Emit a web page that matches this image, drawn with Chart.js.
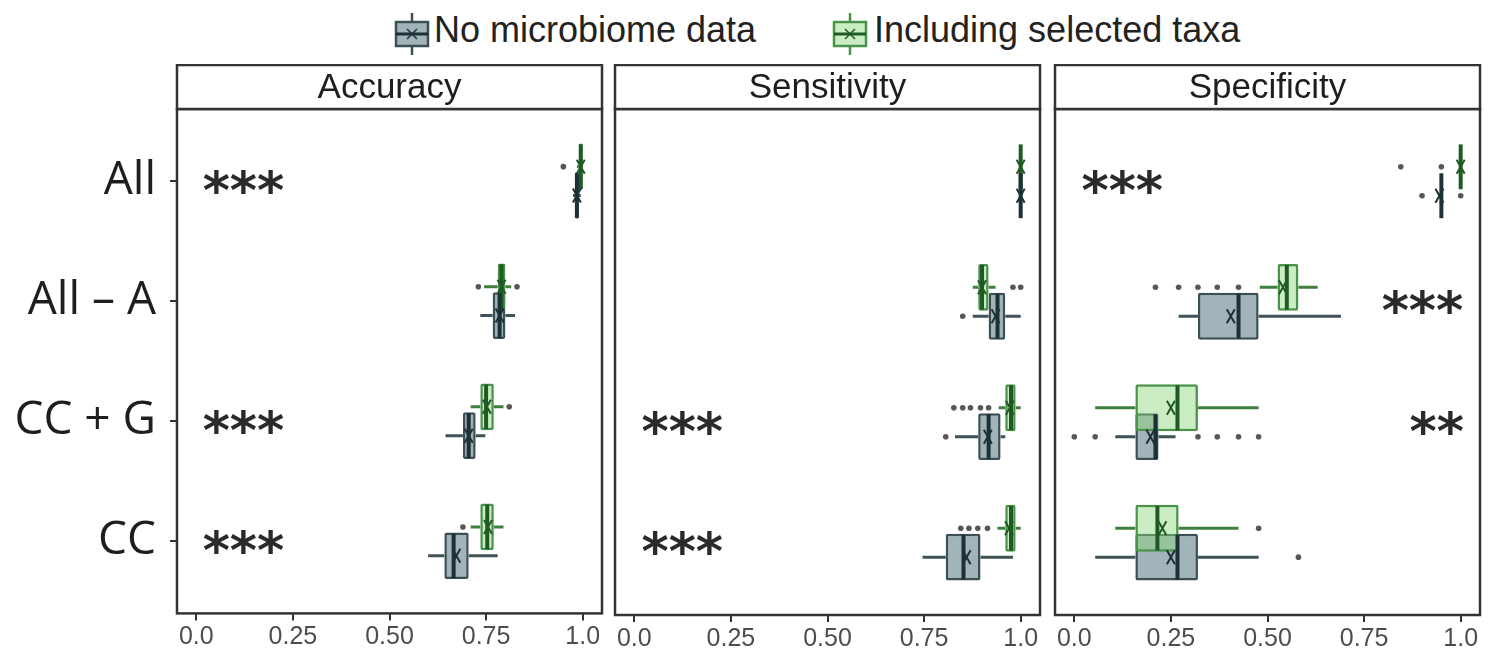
<!DOCTYPE html>
<html>
<head>
<meta charset="utf-8">
<script src="https://cdn.jsdelivr.net/npm/chart.js@4.4.1/dist/chart.umd.min.js"></script>
<style>
  html, body { margin: 0; padding: 0; background: #fff; }
  body { width: 1488px; height: 655px; position: relative; overflow: hidden; font-family: "Liberation Sans", Arial, sans-serif; }
  canvas.facet { position: absolute; top: 64px; }
  .key { position: absolute; top: 12px; }
  .legend-text { position: absolute; top: 12px; font-size: 36px; line-height: 36px; color: #222; white-space: nowrap; }
</style>
</head>
<body>
<canvas class="key" id="keyBase" width="38" height="44" style="left:393px"></canvas>
<span class="legend-text" style="left:434px">No microbiome data</span>
<canvas class="key" id="keyTaxa" width="38" height="44" style="left:831px"></canvas>
<span class="legend-text" style="left:874px">Including selected taxa</span>

<canvas class="facet" id="acc" width="604" height="591" style="left:0px"></canvas>
<canvas class="facet" id="sens" width="438" height="591" style="left:605px"></canvas>
<canvas class="facet" id="spec" width="443" height="591" style="left:1045px"></canvas>

<script>
const categories = ['All', 'All – A', 'CC + G', 'CC'];
const tickValues = [0, 0.25, 0.5, 0.75, 1];
const tickLabels = ['0.0', '0.25', '0.50', '0.75', '1.0'];

// each box: [lower whisker, q1, median, q3, upper whisker]
const accTaxaBox = [[0.985, 0.99, 0.995, 1.0, 1.0], [0.745, 0.78, 0.79, 0.80, 0.815], [0.71, 0.735, 0.75, 0.77, 0.795], [0.71, 0.735, 0.753, 0.77, 0.795]];
const accTaxaMean = [0.995, 0.79, 0.752, 0.755];
const accTaxaOut = [[0.95], [0.73, 0.83], [0.81], [0.69]];
const accBaseBox = [[0.975, 0.98, 0.985, 0.99, 0.995], [0.735, 0.767, 0.785, 0.80, 0.825], [0.645, 0.69, 0.705, 0.723, 0.748], [0.60, 0.642, 0.666, 0.705, 0.78]];
const accBaseMean = [0.985, 0.785, 0.705, 0.673];
const accBaseOut = [[], [], [], []];

const sensTaxaBox = [[1.0, 1.0, 1.0, 1.0, 1.0], [0.876, 0.89, 0.90, 0.917, 0.935], [0.943, 0.96, 0.975, 0.987, 1.0], [0.94, 0.96, 0.975, 0.987, 1.0]];
const sensTaxaMean = [1.0, 0.90, 0.972, 0.97];
const sensTaxaOut = [[], [0.98, 1.0], [0.827, 0.85, 0.87, 0.896, 0.917], [0.845, 0.866, 0.889, 0.914]];
const sensBaseBox = [[1.0, 1.0, 1.0, 1.0, 1.0], [0.876, 0.917, 0.94, 0.96, 1.0], [0.83, 0.89, 0.917, 0.948, 0.96], [0.746, 0.806, 0.852, 0.896, 0.98]];
const sensBaseMean = [1.0, 0.935, 0.915, 0.86];
const sensBaseOut = [[], [0.85], [0.806], []];

const specTaxaBox = [[1.0, 1.0, 1.0, 1.0, 1.0], [0.48, 0.526, 0.55, 0.58, 0.63], [0.054, 0.158, 0.267, 0.32, 0.477], [0.106, 0.158, 0.215, 0.27, 0.425]];
const specTaxaMean = [1.0, 0.54, 0.25, 0.228];
const specTaxaOut = [[0.845, 0.95], [0.21, 0.27, 0.32, 0.37, 0.425], [], [0.477]];
const specBaseBox = [[0.95, 0.95, 0.95, 0.95, 0.95], [0.27, 0.32, 0.425, 0.477, 0.69], [0.106, 0.158, 0.21, 0.218, 0.262], [0.054, 0.158, 0.267, 0.32, 0.477]];
const specBaseMean = [0.945, 0.405, 0.197, 0.25];
const specBaseOut = [[0.90, 1.0], [], [0.0, 0.054, 0.32, 0.37, 0.425, 0.477], [0.58]];

// significance labels and where they sit on the x scale
const accStars = ['***', '', '***', '***'];
const accStarX = [0.122, null, 0.122, 0.122];
const sensStars = ['', '', '***', '***'];
const sensStarX = [null, null, 0.124, 0.124];
const specStars = ['***', '***', '**', ''];
const specStarX = [0.124, 0.901, 0.938, null];

const taxaStyle = { fill: 'rgba(140,215,125,0.45)', line: '#4a934a', dark: '#1f5a24', whisker: '#3f7f3f' };
const baseStyle = { fill: 'rgba(100,130,138,0.6)', line: '#3b4f55', dark: '#1b3136', whisker: '#3f5256' };

// whiskers, medians, means and outliers drawn around the floating bars
const boxParts = {
  id: 'boxParts',
  beforeDatasetsDraw(chart) {
    const xs = chart.scales.x;
    const ctx = chart.ctx;
    ctx.save();
    chart.data.datasets.forEach((ds, d) => {
      const meta = chart.getDatasetMeta(d);
      meta.data.forEach((el, i) => {
        const b = ds.box[i];
        ctx.strokeStyle = ds.style.whisker;
        ctx.lineWidth = 3;
        ctx.beginPath();
        ctx.moveTo(xs.getPixelForValue(b[0]), el.y);
        ctx.lineTo(xs.getPixelForValue(b[1]), el.y);
        ctx.moveTo(xs.getPixelForValue(b[3]), el.y);
        ctx.lineTo(xs.getPixelForValue(b[4]), el.y);
        ctx.stroke();
      });
    });
    ctx.restore();
  },
  afterDatasetsDraw(chart) {
    const xs = chart.scales.x;
    const ctx = chart.ctx;
    ctx.save();
    chart.data.datasets.forEach((ds, d) => {
      const meta = chart.getDatasetMeta(d);
      meta.data.forEach((el, i) => {
        const b = ds.box[i];
        const half = el.height / 2;
        // median
        const mx = xs.getPixelForValue(b[2]);
        ctx.strokeStyle = ds.style.dark;
        ctx.lineWidth = 4;
        ctx.beginPath();
        ctx.moveTo(mx, el.y - half + 1);
        ctx.lineTo(mx, el.y + half - 1);
        ctx.stroke();
        // mean
        const ax = xs.getPixelForValue(ds.means[i]);
        ctx.lineWidth = 2;
        ctx.beginPath();
        ctx.moveTo(ax - 4, el.y - 7);
        ctx.lineTo(ax + 4, el.y + 7);
        ctx.moveTo(ax + 4, el.y - 7);
        ctx.lineTo(ax - 4, el.y + 7);
        ctx.stroke();
        // outliers
        ctx.fillStyle = 'rgba(45,45,45,0.8)';
        ds.outliers[i].forEach(v => {
          ctx.beginPath();
          ctx.arc(xs.getPixelForValue(v), el.y, 2.8, 0, Math.PI * 2);
          ctx.fill();
        });
      });
    });
    ctx.restore();
  }
};

// panel frame, strip label and significance stars
const facet = {
  id: 'facet',
  afterDraw(chart, args, opts) {
    const { ctx, chartArea: a } = chart;
    const xs = chart.scales.x;
    const ys = chart.scales.y;
    ctx.save();
    ctx.strokeStyle = '#333';
    ctx.lineWidth = 2.5;
    ctx.strokeRect(a.left, a.top, a.right - a.left, a.bottom - a.top);
    ctx.fillStyle = '#fff';
    ctx.fillRect(a.left, a.top - 44, a.right - a.left, 44);
    ctx.strokeRect(a.left, a.top - 44, a.right - a.left, 44);
    ctx.fillStyle = '#1e1e1e';
    ctx.font = '35px "Liberation Sans", Arial, sans-serif';
    ctx.textAlign = 'center';
    ctx.textBaseline = 'middle';
    ctx.fillText(opts.title, (a.left + a.right) / 2, a.top - 21);

    ctx.font = 'bold 52px "DejaVu Sans", sans-serif';
    ctx.textBaseline = 'alphabetic';
    ctx.fillStyle = '#2a2a2a';
    opts.stars.forEach((s, i) => {
      if (!s) return;
      const m = ctx.measureText(s);
      const y = ys.getPixelForValue(i) + (m.actualBoundingBoxAscent - m.actualBoundingBoxDescent) / 2;
      ctx.fillText(s, xs.getPixelForValue(opts.starX[i]), y);
    });
    ctx.restore();
  }
};

function boxDataset(label, box, means, outliers, style) {
  return {
    label: label,
    data: box.map((b, i) => ({ x: [b[1], b[3]], y: i })),
    box: box,
    means: means,
    outliers: outliers,
    style: style,
    backgroundColor: style.fill,
    borderColor: style.line,
    borderWidth: 2.5,
    borderRadius: 2,
    borderSkipped: false,
    categoryPercentage: 0.48,
    barPercentage: 1.62
  };
}

function makeFacet(id, title, taxa, base, stars, starX, showY, padLeft, padRight) {
  new Chart(document.getElementById(id), {
    type: 'bar',
    data: {
      datasets: [
        boxDataset('Including selected taxa', taxa[0], taxa[1], taxa[2], taxaStyle),
        boxDataset('No microbiome data', base[0], base[1], base[2], baseStyle)
      ]
    },
    options: {
      responsive: false,
      animation: false,
      indexAxis: 'y',
      layout: { padding: { top: 45, left: padLeft, right: padRight, bottom: 0 } },
      plugins: {
        legend: { display: false },
        tooltip: { enabled: false },
        facet: { title: title, stars: stars, starX: starX }
      },
      scales: {
        x: {
          type: 'linear',
          min: -0.05,
          max: 1.05,
          offset: false,
          afterBuildTicks: s => { s.ticks = tickValues.map(v => ({ value: v })); },
          afterFit: s => { s.height = 40; },
          ticks: {
            callback: v => tickLabels[tickValues.indexOf(v)],
            font: { family: '"Liberation Sans", Arial, sans-serif', size: 25 },
            color: '#4d4d4d',
            padding: 2,
            maxRotation: 0,
            autoSkip: false
          },
          grid: { offset: false, drawOnChartArea: false, drawTicks: true, tickLength: 7, color: '#333', lineWidth: 2 },
          border: { display: false }
        },
        y: {
          type: 'linear',
          min: -0.6,
          max: 3.6,
          reverse: true,
          offset: false,
          display: showY,
          afterBuildTicks: s => { s.ticks = categories.map((c, i) => ({ value: i })); },
          afterFit: s => { s.width = showY ? 177 - padLeft : 0; },
          ticks: {
            callback: v => categories[v],
            font: { family: '"Open Sans", "Noto Sans", sans-serif', size: 46 },
            color: '#1e1e1e',
            padding: 14,
            autoSkip: false
          },
          grid: { offset: false, drawOnChartArea: false, drawTicks: true, tickLength: 7, color: '#333', lineWidth: 2 },
          border: { display: false }
        }
      }
    },
    plugins: [boxParts, facet]
  });
}

makeFacet('acc', 'Accuracy', [accTaxaBox, accTaxaMean, accTaxaOut], [accBaseBox, accBaseMean, accBaseOut], accStars, accStarX, true, 0, 2);
makeFacet('sens', 'Sensitivity', [sensTaxaBox, sensTaxaMean, sensTaxaOut], [sensBaseBox, sensBaseMean, sensBaseOut], sensStars, sensStarX, false, 10, 3);
makeFacet('spec', 'Specificity', [specTaxaBox, specTaxaMean, specTaxaOut], [specBaseBox, specBaseMean, specBaseOut], specStars, specStarX, false, 10, 8);

// legend keys: a small boxplot glyph for each series
function drawKey(id, style) {
  const c = document.getElementById(id).getContext('2d');
  c.strokeStyle = style.line;
  c.lineWidth = 2.5;
  c.beginPath();
  c.moveTo(19, 1);
  c.lineTo(19, 43);
  c.stroke();
  c.fillStyle = '#fff';
  c.fillRect(3, 10, 32, 24);
  c.fillStyle = style.fill;
  c.fillRect(3, 10, 32, 24);
  c.strokeRect(3, 10, 32, 24);
  c.strokeStyle = style.dark;
  c.lineWidth = 3;
  c.beginPath();
  c.moveTo(3, 22);
  c.lineTo(35, 22);
  c.stroke();
  c.lineWidth = 1.5;
  c.beginPath();
  c.moveTo(14, 17); c.lineTo(24, 27);
  c.moveTo(24, 17); c.lineTo(14, 27);
  c.stroke();
}
drawKey('keyBase', baseStyle);
drawKey('keyTaxa', taxaStyle);
</script>
</body>
</html>
